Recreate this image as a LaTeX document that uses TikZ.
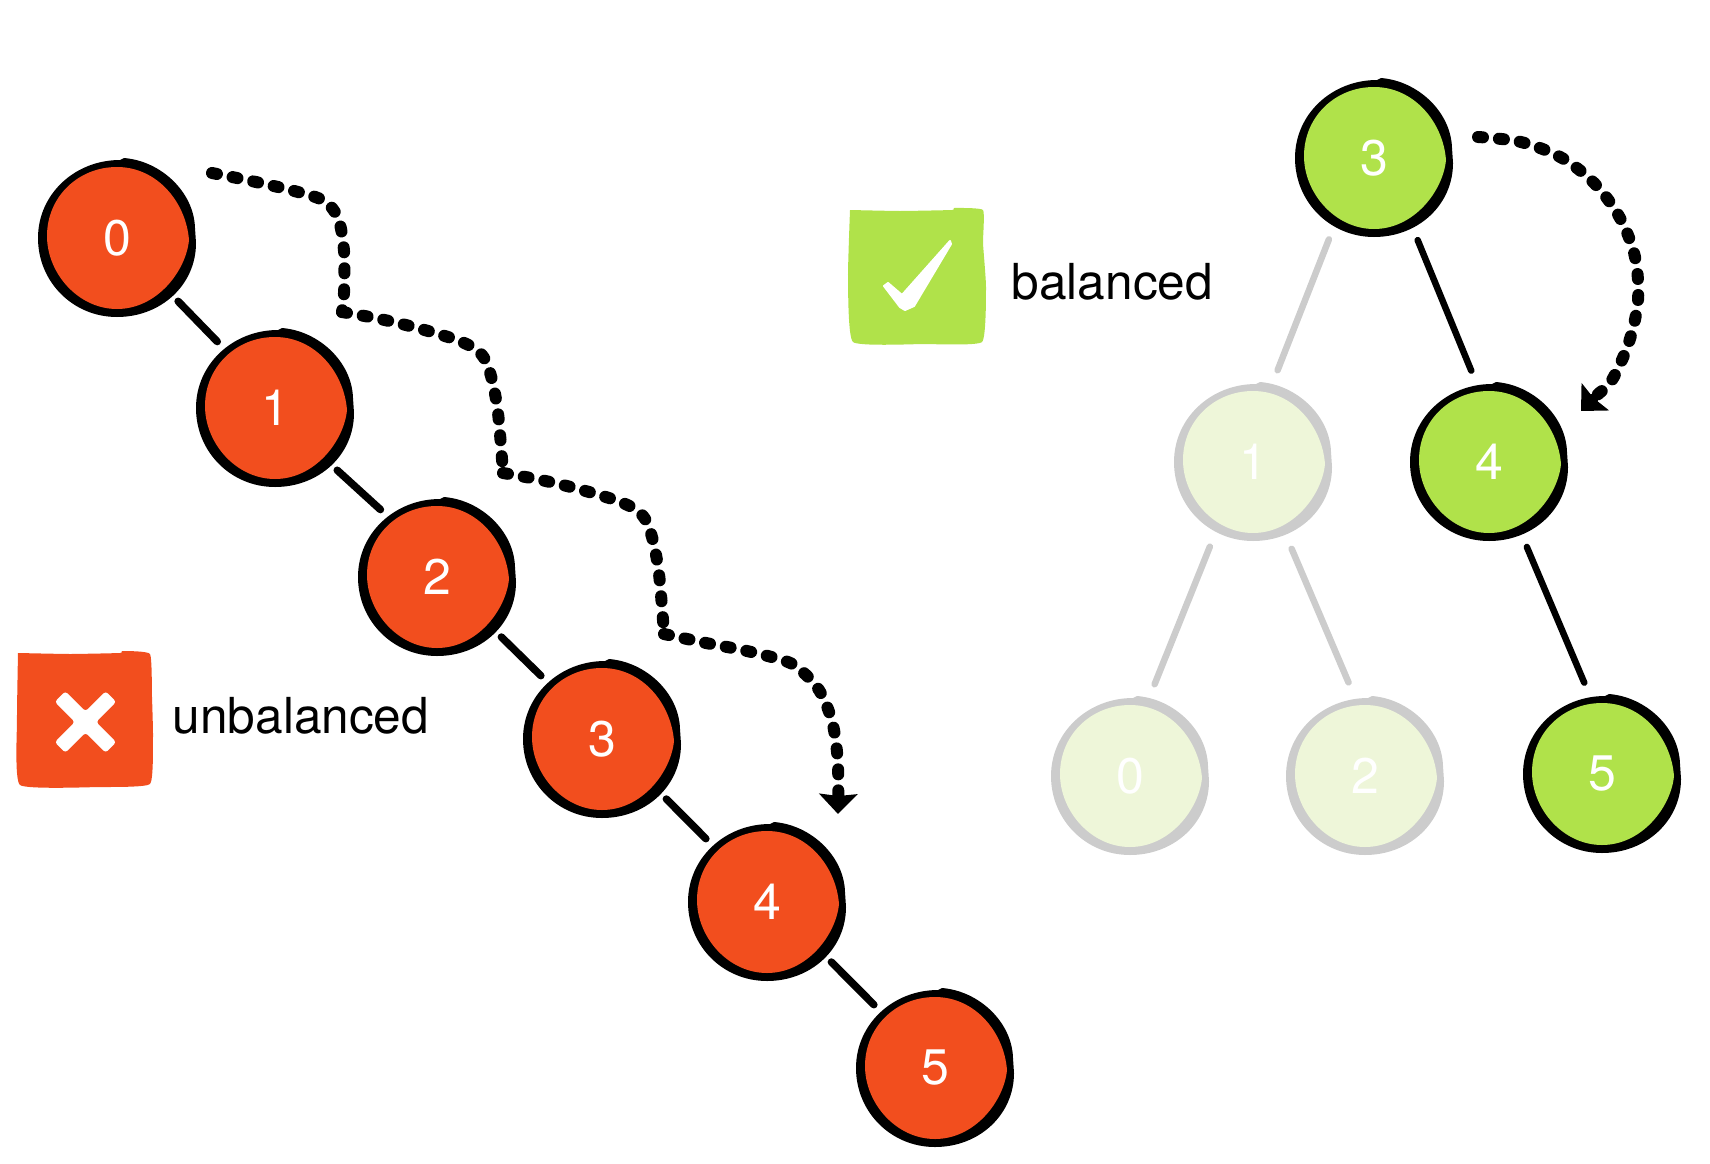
\documentclass[tikz,border=0pt]{standalone}
\usepackage{fontspec}
\setmainfont{TeX Gyre Heros}
\usetikzlibrary{arrows.meta}
\definecolor{hotred}{HTML}{F24E1E}
\definecolor{limegr}{HTML}{B0E24A}
\definecolor{palegr}{HTML}{EEF6D9}
\definecolor{softgr}{HTML}{CCCCCC}
\tikzset{
  treenode/.style={circle,minimum size=180pt,inner sep=0pt,outer sep=0pt,text=white,
    font=\fontsize{50}{55}\selectfont},
  rededge/.style={minimum size=176pt},
  legendtext/.style={anchor=base west,inner sep=0pt,text=black,font=\fontsize{49.6}{55}\selectfont},
  dots/.style={line width=12pt,line cap=round,line join=round,dash pattern=on 5pt off 16pt},
  tipped/.style={-{Stealth[length=20pt,width=38pt,inset=2pt]}},
  shortedge/.style={line cap=round,line width=7.5pt},
  longedge/.style={line cap=round,line width=6.5pt}
}
% hand-drawn disc, then its named node
\newcommand{\sketchnode}[7][]{%
  \begin{scope}[shift={(#3,#4)}]
    \fill[#6] (-79,0) .. controls (-79,-44) and (-42,-78) .. (3,-78)
      -- (7,-80) .. controls (44,-77) and (77,-46) .. (78,-10)
      -- (79,5) .. controls (79,47) and (44,79) .. (0,79)
      .. controls (-44,79) and (-79,44) .. (-79,0) -- cycle;
    \fill[#7] (72,2) .. controls (69,-36) and (40,-71) .. (0,-71)
      .. controls (-39,-71) and (-70,-41) .. (-70,-2)
      .. controls (-70,35) and (-39,71) .. (0,71)
      .. controls (40,71) and (69,33) .. (72,2) -- cycle;
  \end{scope}
  \node[treenode,#1] (#2) at (#3,#4) {\raisebox{-1.5pt}{#5}};
}
\begin{document}
\begin{tikzpicture}[x=1pt,y=-1pt]
\useasboundingbox (0,0) rectangle (1710,1164);

% legend squares
\fill[hotred] plot[smooth,tension=.25] coordinates {(18,653) (70,654) (120,653) (122,651) (150,654) (152,697) (153,737) (150,784) (100,787) (20,785) (17,720) (18,653)} -- cycle;
\begin{scope}[shift={(85.5,722)},rotate=45]
  \fill[white,rounded corners=3pt] (-36,-7.5) -- (-7.5,-7.5) -- (-7.5,-36) -- (7.5,-36) -- (7.5,-7.5) -- (36,-7.5) -- (36,7.5) -- (7.5,7.5) -- (7.5,36) -- (-7.5,36) -- (-7.5,7.5) -- (-36,7.5) -- cycle;
\end{scope}
\fill[limegr] plot[smooth,tension=.25] coordinates {(850,210) (900,211) (952,210) (954,208) (983,210) (983,243) (986,287) (982,342) (924,344) (853,342) (848,277) (850,210)} -- cycle;
\filldraw[white,line width=2pt,line join=round] (884,286) -- (888,283) -- (902,295) -- (950,241) -- (951,244) -- (914,306) -- (905,310) -- (900,307) -- cycle;

\node[legendtext] (lblun) at (172.5,733) {unbalanced};
\node[legendtext] (lblba) at (1011.5,299) {balanced};

% unbalanced chain
\sketchnode[rededge]{r0}{117}{238}{0}{black}{hotred}
\sketchnode[rededge]{r1}{275}{408}{1}{black}{hotred}
\sketchnode[rededge]{r2}{437}{577}{2}{black}{hotred}
\sketchnode[rededge]{r3}{602}{739}{3}{black}{hotred}
\sketchnode[rededge]{r4}{767}{902}{4}{black}{hotred}
\sketchnode[rededge]{r5}{935}{1068}{5}{black}{hotred}
\draw[shortedge] (r0.-46) -- (r1.131);
\draw[shortedge] (r1.-45) -- (r2.130);
\draw[shortedge] (r2.-43) -- (r3.134);
\draw[shortedge] (r3.-43) -- (r4.134);
\draw[shortedge] (r4.-43) -- (r5.134);

% balanced tree
\sketchnode[minimum size=186pt]{g3}{1374}{158}{3}{black}{limegr}
\sketchnode[minimum size=186pt]{g4}{1489}{462}{4}{black}{limegr}
\sketchnode[minimum size=186pt]{g5}{1602}{774}{5}{black}{limegr}
\sketchnode[minimum size=190pt]{f1}{1253}{462}{1}{softgr}{palegr}
\sketchnode[minimum size=190pt]{f0}{1130}{776}{0}{softgr}{palegr}
\sketchnode[minimum size=190pt]{f2}{1365}{776}{2}{softgr}{palegr}
\draw[longedge] (g3.-62) -- (g4.101);
\draw[longedge] (g4.-66) -- (g5.101);
\draw[longedge,softgr] (g3.-119) -- (f1.75);
\draw[longedge,softgr] (f1.-117) -- (f0.75);
\draw[longedge,softgr] (f1.-66) -- (f2.100);

% dotted traversal arrows
\coordinate (pa) at (212,173);
\coordinate (pb) at (342,312);
\coordinate (pc) at (503,473);
\coordinate (pd) at (664,634);
\coordinate (pe) at (838,814);
\coordinate (qa) at (1478,137);
\coordinate (qe) at (1581,411);
\draw[dots] plot[smooth,tension=.55] coordinates {(pa) (256,182) (298,192) (324,201) (338,218) (344,251) (344,293) (pb)};
\draw[dots] plot[smooth,tension=.55] coordinates {(pb) (380,319) (421,329) (462,342) (482,355) (491,376) (498,413) (pc)};
\draw[dots] plot[smooth,tension=.55] coordinates {(pc) (541,480) (582,490) (623,503) (643,516) (652,537) (659,574) (pd)};
\draw[dots,tipped] plot[smooth,tension=.55] coordinates {(pd) (706,643) (747,651) (788,662) (805,674) (819,690) (828,709) (834,730) (838,765) (pe)};
\draw[dots,tipped] plot[smooth,tension=.55] coordinates {(qa) (1521,142) (1562,158) (1595,184) (1620,218) (1635,257) (1638,300) (1629,342) (1612,380) (1596,396) (qe)};
\end{tikzpicture}
\end{document}
